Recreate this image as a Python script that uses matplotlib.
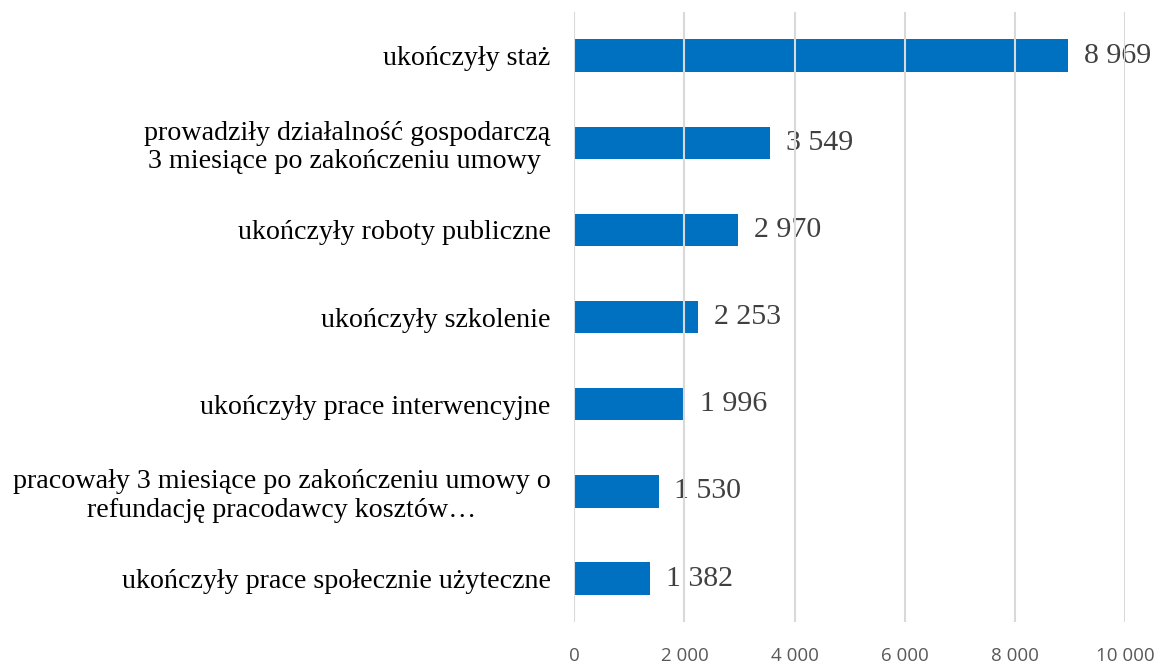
import matplotlib
matplotlib.use("Agg")
import matplotlib.pyplot as plt
from matplotlib.ticker import FuncFormatter

categories = [
    "ukończyły staż",
    "prowadziły działalność gospodarczą\n3 miesiące po zakończeniu umowy ",
    "ukończyły roboty publiczne",
    "ukończyły szkolenie",
    "ukończyły prace interwencyjne",
    "pracowały 3 miesiące po zakończeniu umowy o\nrefundację pracodawcy kosztów…",
    "ukończyły prace społecznie użyteczne",
]
values = [8969, 3549, 2970, 2253, 1996, 1530, 1382]
xticks = [0, 2000, 4000, 6000, 8000, 10000]


def fmt(v):
    return f"{int(v):,}".replace(",", " ")


fig = plt.figure(figsize=(11.6, 6.64), dpi=100)
ax = fig.add_axes([0.495, 0.063, 0.475, 0.919])

ypos = list(range(len(categories)))
ax.barh(ypos, values, height=0.37, color="#0070C0", zorder=2)
ax.set_ylim(len(categories) - 0.5, -0.5)
ax.set_xlim(0, 10000)
ax.set_xticks(xticks)
ax.xaxis.set_major_formatter(FuncFormatter(lambda v, p: "10 000" if v == 10000 else fmt(v)))
ax.set_yticks(ypos)
ax.set_yticklabels(categories, fontfamily="Liberation Serif", fontsize=20.2,
                   color="#000000", linespacing=1.17, ha="right",
                   multialignment="center")
ax.tick_params(axis="y", length=0, pad=17)
ax.tick_params(axis="x", length=0, pad=18, labelsize=13.5, labelcolor="#595959")
for lab in ax.get_xticklabels():
    lab.set_fontfamily("Open Sans")

ax.grid(axis="x", color="#D9D9D9", linewidth=1.5, zorder=3)
ax.set_axisbelow(False)
for s in ax.spines.values():
    s.set_visible(False)

for y, v in zip(ypos, values):
    ax.annotate(fmt(v), xy=(v, y), xytext=(11.5, 0), textcoords="offset points",
                va="center", ha="left", fontsize=21.5, fontfamily="Liberation Serif",
                color="#404040", zorder=1)

fig.savefig("out.png", dpi=100, facecolor="white")
